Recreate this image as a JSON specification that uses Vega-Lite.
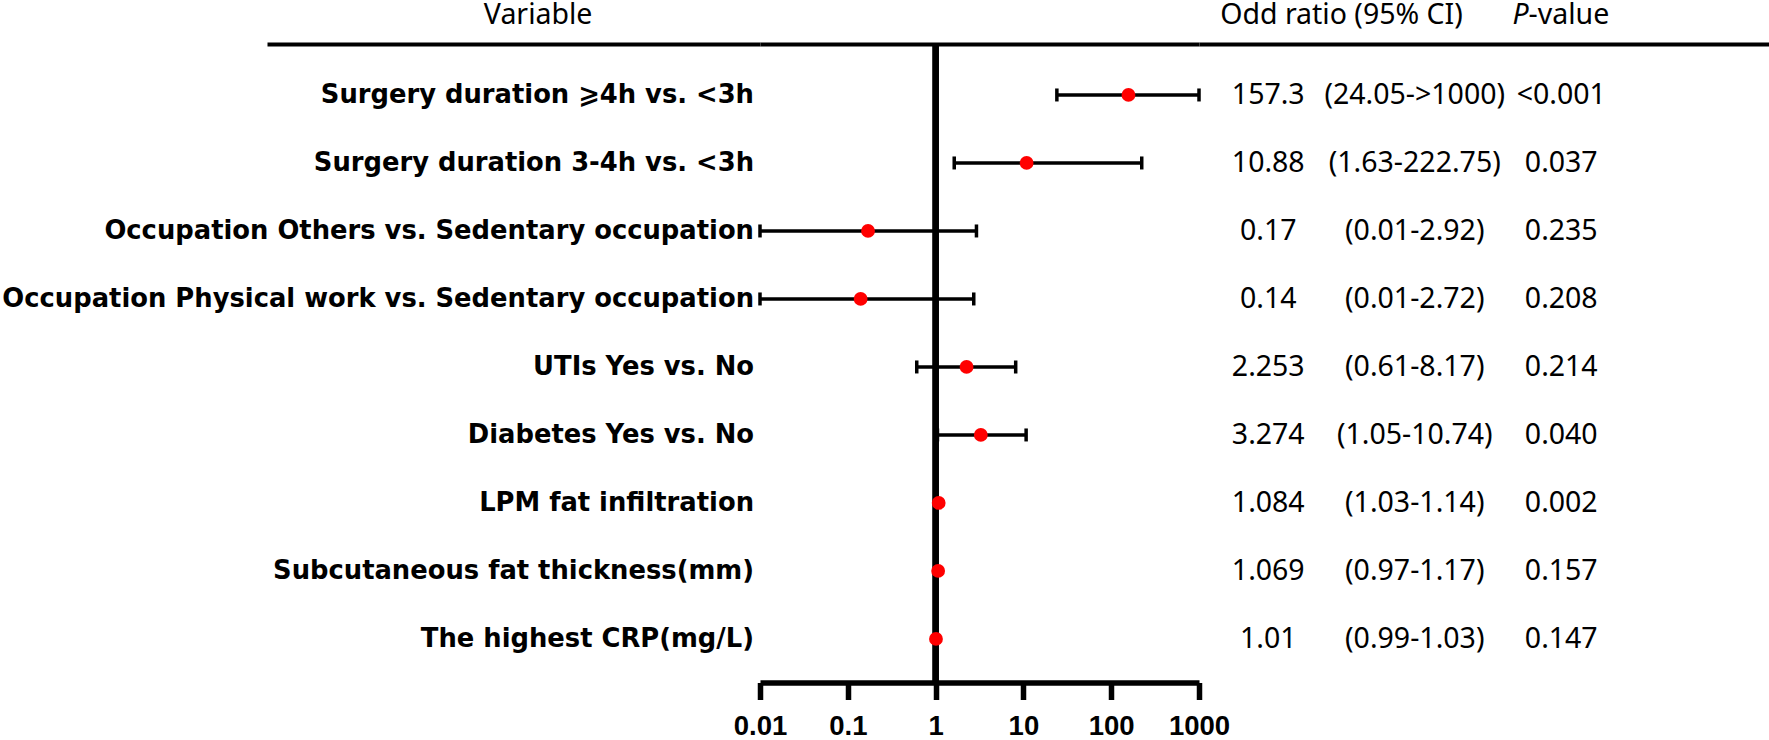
{
  "$schema": "https://vega.github.io/schema/vega-lite/v6.json",
  "padding": 0,
  "autosize": {"type": "pad"},
  "background": "white",
  "config": {"view": {"stroke": null}, "font": "Noto Sans"},
  "datasets": {
    "rows": [
      {"label": "Surgery duration ⩾4h vs. <3h", "or": 157.3, "lo": 24.05, "hi": 1000, "ORt": "157.3", "CIt": "(24.05->1000)", "Pt": "<0.001"},
      {"label": "Surgery duration 3-4h vs. <3h", "or": 10.88, "lo": 1.63, "hi": 222.75, "ORt": "10.88", "CIt": "(1.63-222.75)", "Pt": "0.037"},
      {"label": "Occupation Others vs. Sedentary occupation", "or": 0.17, "lo": 0.01, "hi": 2.92, "ORt": "0.17", "CIt": "(0.01-2.92)", "Pt": "0.235"},
      {"label": "Occupation Physical work vs. Sedentary occupation", "or": 0.14, "lo": 0.01, "hi": 2.72, "ORt": "0.14", "CIt": "(0.01-2.72)", "Pt": "0.208"},
      {"label": "UTIs Yes vs. No", "or": 2.253, "lo": 0.61, "hi": 8.17, "ORt": "2.253", "CIt": "(0.61-8.17)", "Pt": "0.214"},
      {"label": "Diabetes Yes vs. No", "or": 3.274, "lo": 1.05, "hi": 10.74, "ORt": "3.274", "CIt": "(1.05-10.74)", "Pt": "0.040"},
      {"label": "LPM fat infiltration", "or": 1.084, "lo": 1.03, "hi": 1.14, "ORt": "1.084", "CIt": "(1.03-1.14)", "Pt": "0.002"},
      {"label": "Subcutaneous fat thickness(mm)", "or": 1.069, "lo": 0.97, "hi": 1.17, "ORt": "1.069", "CIt": "(0.97-1.17)", "Pt": "0.157"},
      {"label": "The highest CRP(mg/L)", "or": 1.01, "lo": 0.99, "hi": 1.03, "ORt": "1.01", "CIt": "(0.99-1.03)", "Pt": "0.147"}
    ]
  },
  "columns": 4,
  "spacing": 0,
  "bounds": "flush",
  "concat": [
    {
      "width": 267, "height": 44,
      "data": {"values": [{}]},
      "mark": {"type": "text", "text": ""},
      "encoding": {}
    },
    {
      "width": 493, "height": 44,
      "data": {"values": [{}]},
      "mark": {"type": "text", "text": "Variable", "font": "Noto Sans", "fontSize": 28.5, "baseline": "alphabetic", "dy": 2, "color": "black"},
      "encoding": {
        "x": {"datum": 0.55, "type": "quantitative", "scale": {"domain": [0, 1]},
              "axis": {"orient": "bottom", "domain": true, "domainColor": "black", "domainWidth": 4, "ticks": false, "labels": false, "grid": false, "title": null}}
      }
    },
    {
      "width": 439, "height": 44,
      "data": {"values": [{}]},
      "mark": {"type": "text", "text": ""},
      "encoding": {
        "x": {"datum": 0.5, "type": "quantitative", "scale": {"domain": [0, 1]},
              "axis": {"orient": "bottom", "domain": true, "domainColor": "black", "domainWidth": 4, "ticks": false, "labels": false, "grid": false, "title": null}}
      }
    },
    {
      "width": 570, "height": 44,
      "data": {"values": [{}]},
      "layer": [
        {
          "mark": {"type": "text", "text": "Odd ratio (95% CI)", "font": "Noto Sans", "fontSize": 28.5, "baseline": "alphabetic", "dy": 2, "dx": -4, "color": "black"},
          "encoding": {
            "x": {"datum": "ORt", "type": "nominal", "bandPosition": 1,
                  "scale": {"type": "band", "domain": ["ORt", "CIt", "Pt"], "paddingInner": 0, "paddingOuter": 0.4454, "align": 0},
                  "axis": {"orient": "bottom", "domain": true, "domainColor": "black", "domainWidth": 4, "ticks": false, "labels": false, "grid": false, "title": null}}
          }
        },
        {
          "mark": {"type": "text", "text": "P", "font": "Noto Sans", "fontStyle": "italic", "fontSize": 28.5, "align": "right", "baseline": "alphabetic", "dy": 2, "color": "black"},
          "encoding": {"x": {"datum": "Pt", "type": "nominal", "bandPosition": 0.25}}
        },
        {
          "mark": {"type": "text", "text": "-value", "font": "Noto Sans", "fontSize": 28.5, "align": "left", "baseline": "alphabetic", "dy": 2, "color": "black"},
          "encoding": {"x": {"datum": "Pt", "type": "nominal", "bandPosition": 0.25}}
        }
      ]
    },
    {
      "width": 267, "height": 638.5,
      "data": {"values": [{}]},
      "mark": {"type": "text", "text": ""},
      "encoding": {}
    },
    {
      "width": 493, "height": 638.5,
      "data": {"name": "rows"},
      "mark": {"type": "text", "align": "right", "dx": -6, "font": "DejaVu Sans", "fontWeight": "bold", "fontSize": 25.8, "baseline": "middle", "color": "black"},
      "encoding": {
        "x": {"datum": 1, "type": "quantitative", "scale": {"domain": [0, 1]}, "axis": null},
        "y": {"field": "label", "type": "nominal", "sort": null, "scale": {"type": "band", "paddingInner": 0, "paddingOuter": 0.195, "align": 0.64}, "axis": null},
        "text": {"field": "label"}
      }
    },
    {
      "width": 439, "height": 638.5,
      "data": {"name": "rows"},
      "layer": [
        {
          "mark": {"type": "rule", "strokeWidth": 5.5, "color": "black"},
          "encoding": {
            "x": {"datum": 1, "type": "quantitative",
                  "scale": {"type": "log", "domain": [0.01, 1000], "nice": false},
                  "axis": {"orient": "bottom", "values": [0.01, 0.1, 1, 10, 100, 1000], "format": "~g", "title": null, "grid": false,
                           "domainColor": "black", "domainWidth": 5.5, "tickColor": "black", "tickWidth": 5.5, "tickSize": 17,
                           "labelFont": "Liberation Sans", "labelFontWeight": "bold", "labelFontSize": 27.5, "labelColor": "black",
                           "labelPadding": 13, "labelFlush": false, "labelOverlap": false, "labelBound": false}}
          }
        },
        {
          "mark": {"type": "rule", "strokeWidth": 3.5, "color": "black"},
          "encoding": {
            "x": {"field": "lo", "type": "quantitative"},
            "x2": {"field": "hi"},
            "y": {"field": "label", "type": "nominal", "sort": null, "scale": {"type": "band", "paddingInner": 0, "paddingOuter": 0.195, "align": 0.64}, "axis": null}
          }
        },
        {
          "mark": {"type": "tick", "thickness": 3.5, "size": 13, "color": "black"},
          "encoding": {
            "x": {"field": "lo", "type": "quantitative"},
            "y": {"field": "label", "type": "nominal", "sort": null},
            "opacity": {"condition": {"test": "datum.hi / datum.lo < 1.3", "value": 0}, "value": 1}
          }
        },
        {
          "mark": {"type": "tick", "thickness": 3.5, "size": 13, "color": "black"},
          "encoding": {
            "x": {"field": "hi", "type": "quantitative"},
            "y": {"field": "label", "type": "nominal", "sort": null},
            "opacity": {"condition": {"test": "datum.hi / datum.lo < 1.3", "value": 0}, "value": 1}
          }
        },
        {
          "mark": {"type": "point", "filled": true, "color": "#ff0000", "size": 190, "opacity": 1},
          "encoding": {
            "x": {"field": "or", "type": "quantitative"},
            "y": {"field": "label", "type": "nominal", "sort": null}
          }
        }
      ]
    },
    {
      "width": 570, "height": 638.5,
      "data": {"name": "rows"},
      "transform": [{"fold": ["ORt", "CIt", "Pt"], "as": ["col", "val"]}],
      "mark": {"type": "text", "font": "Noto Sans", "fontSize": 28.5, "baseline": "middle", "dx": -4, "color": "black"},
      "encoding": {
        "x": {"field": "col", "type": "nominal", "scale": {"type": "band", "domain": ["ORt", "CIt", "Pt"], "paddingInner": 0, "paddingOuter": 0.4454, "align": 0}, "axis": null},
        "y": {"field": "label", "type": "nominal", "sort": null, "scale": {"type": "band", "paddingInner": 0, "paddingOuter": 0.195, "align": 0.64}, "axis": null},
        "text": {"field": "val"}
      }
    }
  ]
}
